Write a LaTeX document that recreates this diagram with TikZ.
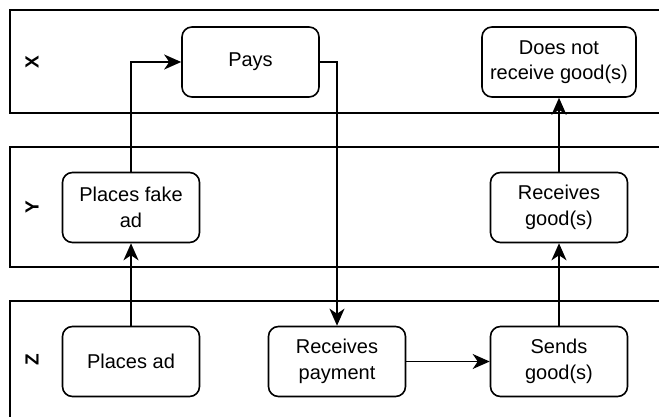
\documentclass[tikz,border=0pt]{standalone}
\usepackage{fontspec}
\setmainfont{Liberation Sans}
\usetikzlibrary{arrows.meta}

\begin{document}
\begin{tikzpicture}[x={(1pt,0)},y={(0,-1pt)},line width=1.6pt,
  stepbox/.style={draw,rounded corners=10pt,minimum width=137pt,minimum height=70pt,
    align=center,inner sep=2pt,font=\fontsize{20}{25.5}\selectfont},
  lanelabel/.style={rotate=90,font=\fontsize{19}{20}\selectfont\bfseries},
  flow/.style={-{Stealth[length=17pt,width=15pt,inset=5pt]}}]
\useasboundingbox (0,0) rectangle (659,417);
  \foreach \lname/\ltop/\lbot/\lmid in {X/10/113/62,Y/147/267/207,Z/301/440/360}
  {  \draw (670,\ltop) -- (10,\ltop) -- (10,\lbot) -- (670,\lbot);
     \node [lanelabel] (lane\lname) at (32,\lmid) {\lname};}
\node [stepbox] (pays) at (250.5,62) {Pays};
\node [stepbox,minimum width=154pt] (notrec) at (559,62) {Does not\\receive good(s)};
\node [stepbox] (fakead) at (131,207.5) {Places fake\\ad};
\node [stepbox] (recgood) at (559,207.5) {Receives\\good(s)};
\node [stepbox] (placesad) at (131,361.5) {Places ad};
\node [stepbox] (recpay) at (337,361.5) {Receives\\payment};
\node [stepbox] (sends) at (559,361.5) {Sends\\good(s)};
\draw [flow] (placesad) -- (fakead);
\draw [flow] (fakead) |- (pays);
\draw [flow] (pays) -| (recpay);
\draw [flow] (recpay) -- (sends);
\draw [flow] (sends) -- (recgood);
\draw [flow] (recgood) -- (notrec);
\end{tikzpicture}
\end{document}
